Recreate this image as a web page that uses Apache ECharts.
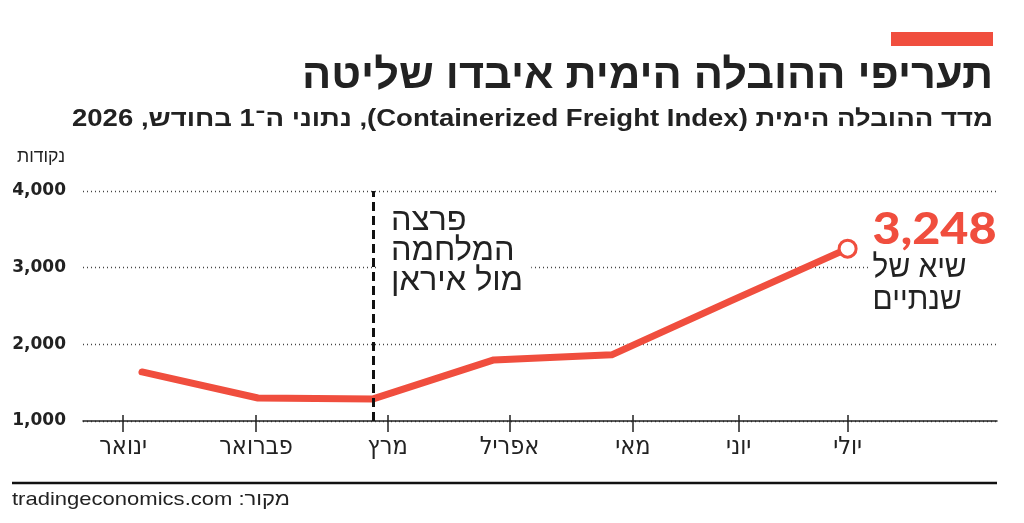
<!DOCTYPE html>
<html lang="he">
<head>
<meta charset="utf-8">
<script src="https://cdn.jsdelivr.net/npm/echarts@6/dist/echarts.min.js"></script>
<style>
html, body { margin: 0; padding: 0; background: #fff; }
#chart { width: 1024px; height: 523px; direction: rtl; }
</style>
</head>
<body>
<div id="chart" dir="rtl"></div>
<script>
// data: containerized freight index, reading on the 1st of each month, 2026
var months = ['ינואר', 'פברואר', 'מרץ', 'אפריל', 'מאי', 'יוני', 'יולי'];
var monthTicks = [-3.3, 30.5, 64, 95, 126.4, 153.3, 181];   // day of year under each month label
var pointDays = [1.5, 31, 60.3, 91, 121, 151, 181];
var values = [1640, 1300, 1288, 1797, 1863, 2560, 3248];
var yTicks = [1000, 2000, 3000, 4000];
var warDay = 60.3;

var title = 'תעריפי ההובלה הימית איבדו שליטה';
var subtitle = 'מדד ההובלה הימית (Containerized Freight Index), נתוני ה־1 בחודש, 2026';
var unitLabel = 'נקודות';
var warText = ['פרצה', 'המלחמה', 'מול איראן'];
var peakText = ['שיא של', 'שנתיים'];
var source = 'מקור: tradingeconomics.com';

var red = '#F04E3E';
var ink = '#222';
var hebFont = '"Liberation Sans Narrow", "DejaVu Sans Condensed", sans-serif';

var myChart = echarts.init(document.getElementById('chart'));

var mctx = document.createElement('canvas').getContext('2d');
function fit(text, font, width) {
    mctx.font = font;
    return width / mctx.measureText(text).width;
}
function monthName(v) {
    for (var i = 0; i < monthTicks.length; i++) {
        if (Math.abs(monthTicks[i] - v) < 0.01) return months[i];
    }
    return '';
}

var last = values.length - 1;
var lineData = pointDays.map(function (d, i) {
    if (i === last) {
        return {
            value: [d, values[i]],
            symbol: 'circle',
            symbolSize: 17,
            itemStyle: { color: '#fff', borderColor: red, borderWidth: 3 }
        };
    }
    return [d, values[i]];
});

var option = {
    backgroundColor: '#fff',
    animation: false,
    grid: { left: 83, right: 27, top: 191, bottom: 102 },
    xAxis: [{
        type: 'value',
        min: -13.5,
        max: 219,
        position: 'bottom',
        axisLine: { show: true, lineStyle: { color: ink, width: 1.5 } },
        axisTick: { show: true, customValues: monthTicks, length: 11, lineStyle: { color: ink, width: 1.5 } },
        axisLabel: {
            customValues: monthTicks,
            formatter: monthName,
            margin: 14,
            fontSize: 25,
            fontFamily: hebFont,
            color: ink
        },
        splitLine: { show: false }
    }, {
        type: 'value',
        min: -13.5,
        max: 219,
        position: 'bottom',
        axisLine: { show: false },
        axisTick: { show: true, inside: true, customValues: monthTicks, length: 6, lineStyle: { color: ink, width: 1.5 } },
        axisLabel: { show: false },
        splitLine: { show: false }
    }],
    yAxis: {
        type: 'value',
        min: 1000,
        max: 4000,
        interval: 1000,
        axisLine: { show: false },
        axisTick: { show: false },
        axisLabel: {
            margin: 17,
            fontSize: 17,
            fontWeight: 'bold',
            fontFamily: '"DejaVu Sans", sans-serif',
            color: ink,
            formatter: function (v) { return v.toLocaleString('en-US'); }
        },
        splitLine: { lineStyle: { color: '#444', type: [1, 3], width: 1.3 } }
    },
    series: [{
        type: 'line',
        xAxisIndex: 0,
        data: lineData,
        symbol: 'none',
        lineStyle: { color: red, width: 7, cap: 'round', join: 'round' },
        markLine: {
            silent: true,
            symbol: 'none',
            label: { show: false },
            lineStyle: { type: [9, 5], color: '#111', width: 3 },
            data: [{ xAxis: warDay }]
        },
        z: 3
    }]
};
myChart.setOption(option);

var warPx = myChart.convertToPixel({ seriesIndex: 0 }, [warDay, 4000]);
var peakPx = myChart.convertToPixel({ seriesIndex: 0 }, [pointDays[last], values[last]]);

var titleFont = 'bold 42px "Liberation Sans"';
var subFont = 'bold 23px "Liberation Sans"';
var unitFont = '18px "Liberation Sans"';
var srcFont = '19px "Liberation Sans"';
var warFont = '32px "Liberation Sans"';
var peakFont = '900 44px Lato';
var peakSubFont = '32px "Liberation Sans"';

var warScale = fit(warText[2], warFont, 132);
var peakSubScale = fit(peakText[0], peakSubFont, 94);

myChart.setOption({
    graphic: [
        { type: 'rect', shape: { x: 891, y: 32, width: 102, height: 14 }, style: { fill: red } },
        {
            type: 'text', x: 993, y: 76, scaleX: fit(title, titleFont, 691),
            style: { text: title, font: titleFont, fill: ink, textAlign: 'right', textVerticalAlign: 'middle' }
        },
        {
            type: 'text', x: 993, y: 120, scaleX: fit(subtitle, subFont, 921),
            style: { text: subtitle, font: subFont, fill: ink, textAlign: 'right', textVerticalAlign: 'middle' }
        },
        {
            type: 'text', x: 65, y: 157, scaleX: fit(unitLabel, unitFont, 48),
            style: { text: unitLabel, font: unitFont, fill: ink, textAlign: 'right', textVerticalAlign: 'middle' }
        },
        { type: 'line', shape: { x1: 12, y1: 483, x2: 997, y2: 483 }, style: { stroke: '#111', lineWidth: 2.5 } },
        {
            type: 'text', x: 12, y: 500, scaleX: fit(source, srcFont, 278),
            style: { text: source, font: srcFont, fill: ink, textAlign: 'left', textVerticalAlign: 'middle' }
        },
        {
            type: 'text', x: warPx[0] + 18 - 14 * warScale, y: warPx[1] + 13, z: 10,
            scaleX: warScale,
            style: {
                text: warText.join('\n'), font: warFont, fill: ink, lineHeight: 30,
                textAlign: 'left', textVerticalAlign: 'top',
                backgroundColor: '#fff', padding: [2, 8, 2, 14]
            }
        },
        {
            type: 'text', x: peakPx[0] + 25, y: peakPx[1] - 19, z: 10,
            scaleX: fit(values[last].toLocaleString('en-US'), peakFont, 124),
            style: {
                text: values[last].toLocaleString('en-US'), font: peakFont, fill: red,
                textAlign: 'left', textVerticalAlign: 'middle'
            }
        },
        {
            type: 'text', x: peakPx[0] + 25 - 5 * peakSubScale, y: peakPx[1] + 2, z: 10,
            scaleX: peakSubScale,
            style: {
                text: peakText.join('\n'), font: peakSubFont, fill: ink, lineHeight: 32,
                textAlign: 'left', textVerticalAlign: 'top',
                backgroundColor: '#fff', padding: [2, 40, 2, 5]
            }
        }
    ]
});
</script>
</body>
</html>
